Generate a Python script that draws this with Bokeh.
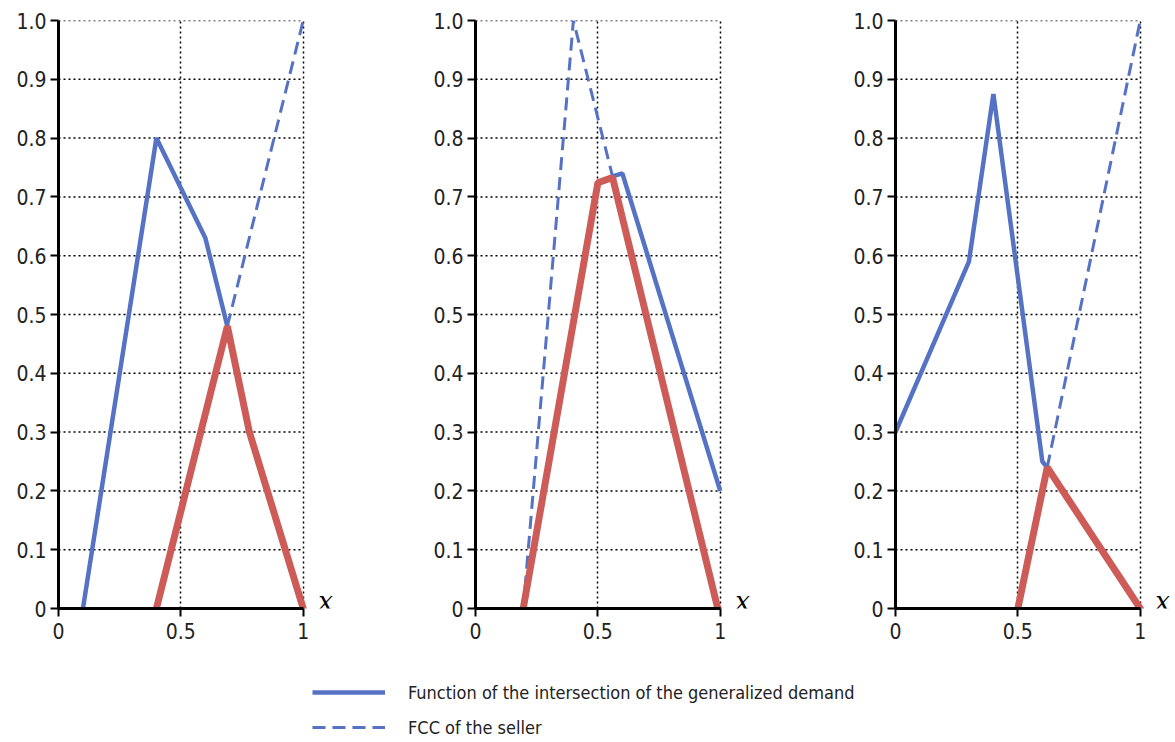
from bokeh.plotting import figure
from bokeh.models import Range1d, FixedTicker, Legend, LegendItem
from bokeh.core.properties import value
from bokeh.layouts import row, column
from bokeh.embed import file_html
from bokeh.resources import INLINE

# ---- data ----
y_ticks = [0, 0.1, 0.2, 0.3, 0.4, 0.5, 0.6, 0.7, 0.8, 0.9, 1.0]
y_labels = ["0", "0.1", "0.2", "0.3", "0.4", "0.5", "0.6", "0.7", "0.8", "0.9", "1.0"]
x_ticks = [0, 0.5, 1.0]
x_labels = ["0", "0.5", "1"]
axis_name = "x"

# panel 1
demand1_x = [0.1, 0.4, 0.6, 0.69]
demand1_y = [0.0, 0.8, 0.63, 0.48]
fcc1_x = [0.69, 1.0]
fcc1_y = [0.48, 1.0]
result1_x = [0.4, 0.69, 0.78, 1.0]
result1_y = [0.0, 0.48, 0.3, 0.0]

# panel 2
demand2_x = [0.56, 0.6, 1.0]
demand2_y = [0.735, 0.74, 0.2]
fcc2_x = [0.195, 0.4, 0.56]
fcc2_y = [0.0, 1.0, 0.735]
result2_x = [0.195, 0.5, 0.56, 0.99]
result2_y = [0.0, 0.724, 0.733, 0.0]

# panel 3
demand3_x = [0.0, 0.3, 0.4, 0.6, 0.62]
demand3_y = [0.3, 0.59, 0.875, 0.25, 0.24]
fcc3_x = [0.62, 1.0]
fcc3_y = [0.24, 1.0]
result3_x = [0.5, 0.62, 1.0]
result3_y = [0.0, 0.24, 0.0]

legend_labels = ["Function of the intersection of the generalized demand", "FCC of the seller"]

BLUE = "#5572C4"
RED = "#CD5C58"
FONT = "DejaVu Sans Condensed"
DASH = "13 7"
X_END = 1.14
FRAME_W = 279

panels = [
    (demand1_x, demand1_y, fcc1_x, fcc1_y, result1_x, result1_y, 58, 425),
    (demand2_x, demand2_y, fcc2_x, fcc2_y, result2_x, result2_y, 50, 420),
    (demand3_x, demand3_y, fcc3_x, fcc3_y, result3_x, result3_y, 50, 330),
]

figs = []
for dx, dy, fx, fy, rx, ry, left, w in panels:
    p = figure(width=w, height=644, output_backend="svg", toolbar_location=None,
               x_range=Range1d(0, X_END), y_range=Range1d(0, 1),
               min_border_left=left, min_border_right=w - left - FRAME_W,
               min_border_top=20, min_border_bottom=36)
    p.outline_line_color = None
    for ax in (p.xaxis[0], p.yaxis[0]):
        ax.axis_line_width = 3
        ax.axis_line_color = "black"
        ax.major_tick_line_width = 2
        ax.major_tick_line_color = "black"
        ax.major_tick_out = 8
        ax.major_tick_in = 0
        ax.minor_tick_line_color = None
        ax.major_label_text_font = FONT
        ax.major_label_text_font_size = "21px"
        ax.major_label_text_color = "#222222"
    p.yaxis[0].ticker = FixedTicker(ticks=y_ticks)
    p.yaxis[0].major_label_overrides = {t: l for t, l in zip(y_ticks, y_labels)}
    p.yaxis[0].major_label_standoff = 4
    p.xaxis[0].ticker = FixedTicker(ticks=x_ticks)
    p.xaxis[0].major_label_overrides = {t: l for t, l in zip(x_ticks, x_labels)}
    p.xaxis[0].major_label_standoff = 6
    p.xaxis[0].bounds = (x_ticks[0], x_ticks[-1])
    # vertical grid from the library, horizontal dotted grid limited to x in [0, 1]
    p.xgrid[0].grid_line_color = "black"
    p.xgrid[0].grid_line_dash = "2 3"
    p.xgrid[0].grid_line_width = 1.5
    p.ygrid[0].visible = False
    p.segment(x0=x_ticks[0], x1=x_ticks[-1], y0=y_ticks[1:], y1=y_ticks[1:],
              line_color="black", line_dash="2 3", line_width=1.5, level="underlay")
    p.line(fx, fy, line_color=BLUE, line_width=3, line_dash=DASH)
    p.line(dx, dy, line_color=BLUE, line_width=4.5)
    p.line(rx, ry, line_color=RED, line_width=7, line_cap="round")
    p.text(x=[x_ticks[-1]], y=[y_ticks[0]], text=[axis_name],
           x_offset=15, y_offset=-8,
           text_font=value("DejaVu Serif"), text_font_style="italic",
           text_font_size="26px", text_color="black",
           text_align="left", text_baseline="alphabetic")
    figs.append(p)

lg = figure(width=1175, height=98, output_backend="svg", toolbar_location=None,
            x_range=Range1d(0, 1), y_range=Range1d(0, 1),
            min_border=0, min_border_left=0, min_border_right=0,
            min_border_top=0, min_border_bottom=0)
lg.axis.visible = False
lg.grid.visible = False
lg.outline_line_color = None
r1 = lg.line([-3, -2], [-3, -2], line_color=BLUE, line_width=4.5)
r2 = lg.line([-3, -2], [-3, -2], line_color=BLUE, line_width=3, line_dash=DASH)
legend = Legend(items=[LegendItem(label=legend_labels[0], renderers=[r1]),
                       LegendItem(label=legend_labels[1], renderers=[r2])],
                location=(312, 3), padding=0, margin=0,
                glyph_width=73, glyph_height=24, label_height=24,
                spacing=11, label_standoff=23,
                label_text_font=FONT, label_text_font_size="18px",
                label_text_color="#222222",
                border_line_color=None, background_fill_alpha=0)
lg.add_layout(legend)

layout = column(row(*figs, spacing=0), lg, spacing=0)

with open("out.html", "w") as f:
    f.write(file_html(layout, INLINE))
